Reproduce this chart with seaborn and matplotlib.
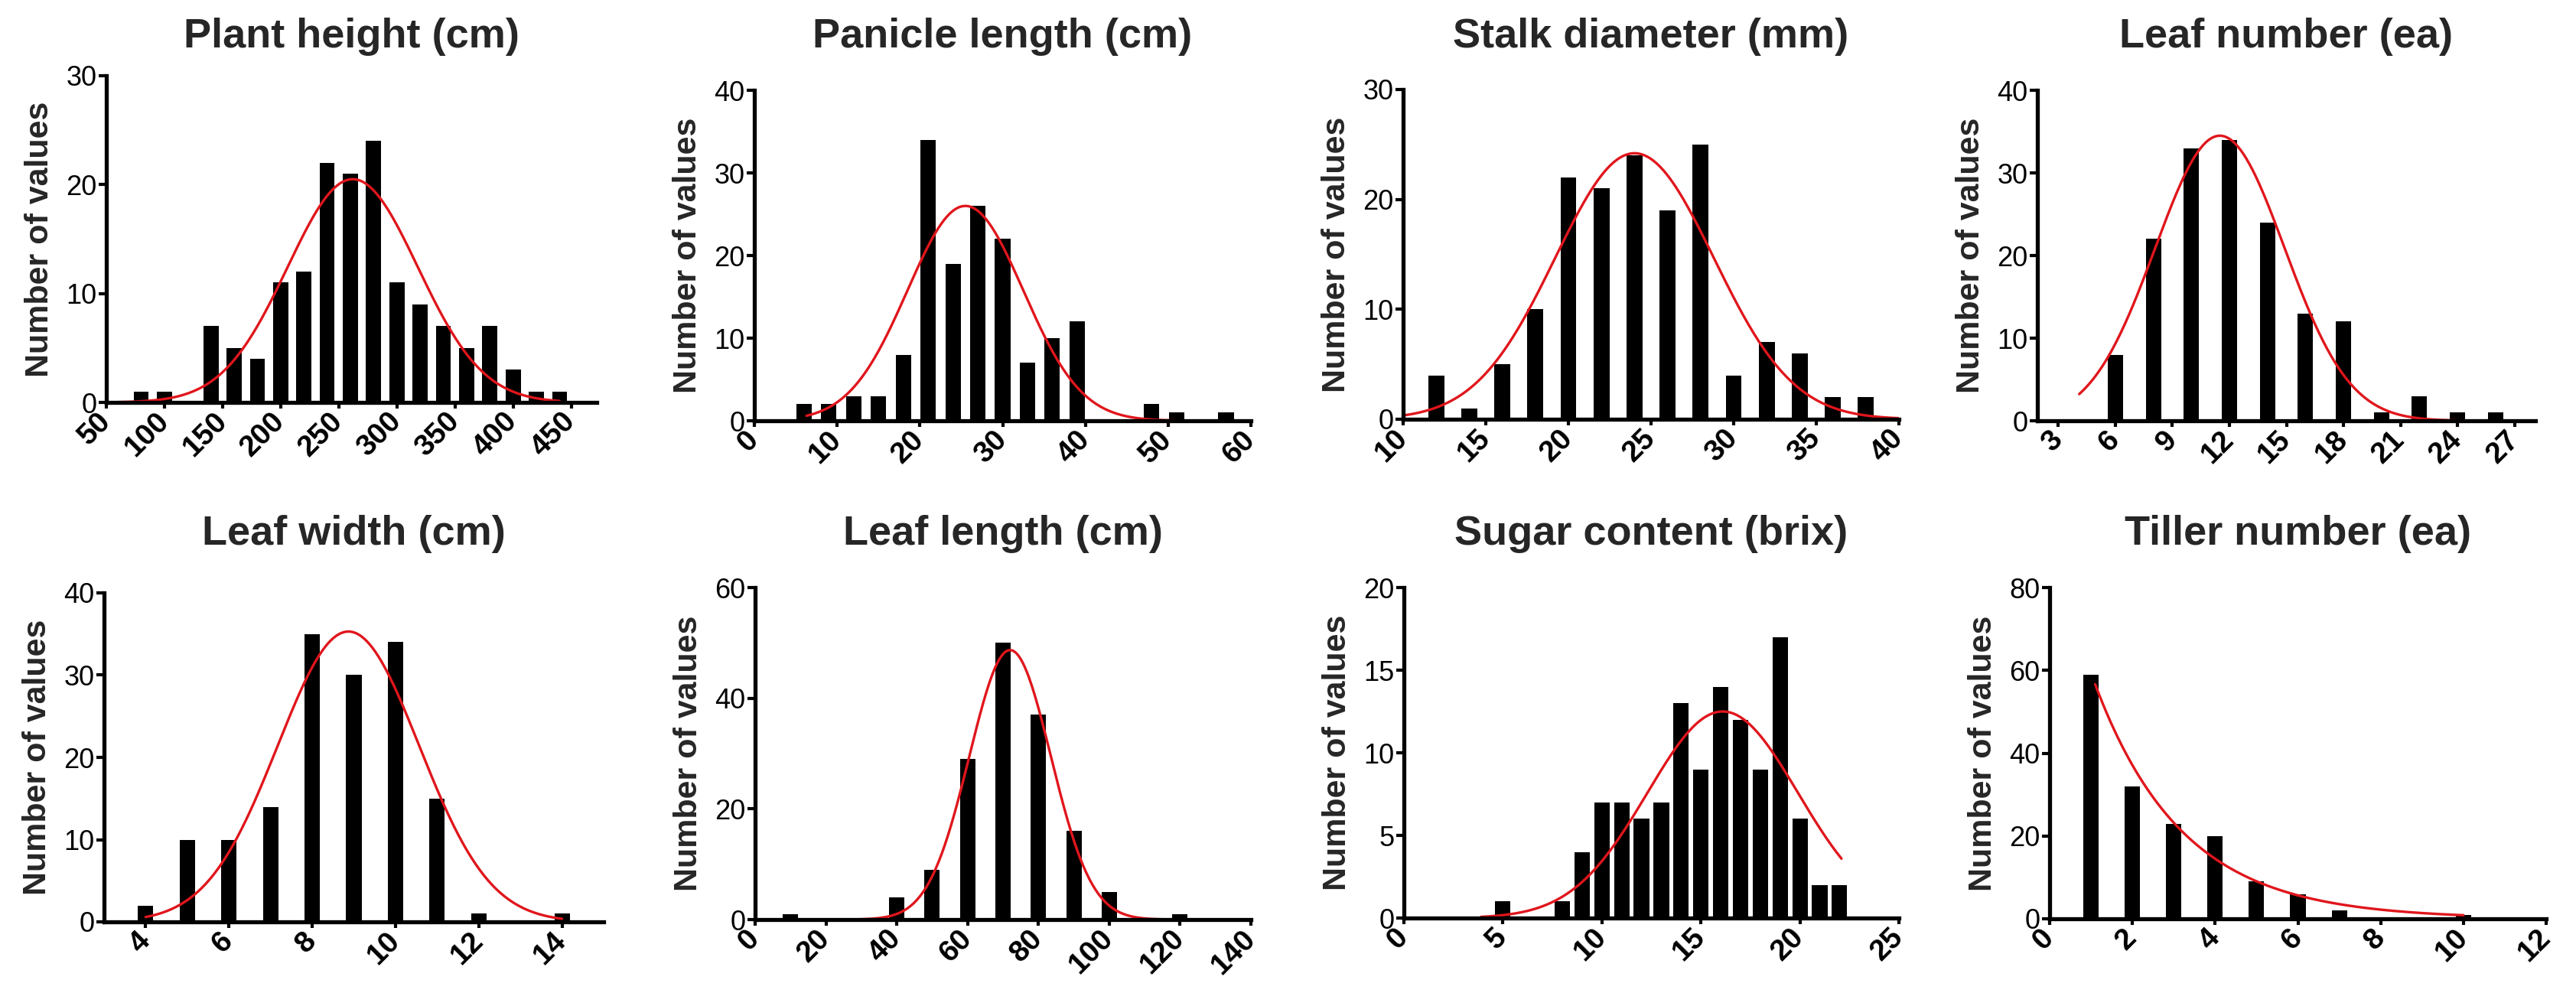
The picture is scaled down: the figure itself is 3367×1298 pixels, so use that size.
import numpy as np
import pandas as pd
import matplotlib
matplotlib.use('Agg')
import matplotlib.pyplot as plt
import seaborn as sns

# Panel titles (row by row)
titles = ['Plant height (cm)', 'Panicle length (cm)', 'Stalk diameter (mm)', 'Leaf number (ea)',
          'Leaf width (cm)', 'Leaf length (cm)', 'Sugar content (brix)', 'Tiller number (ea)']

# Histogram counts
plant_height_counts = [1, 1, 0, 7, 5, 4, 11, 12, 22, 21, 24, 11, 9, 7, 5, 7, 3, 1, 1]
panicle_length_counts = [2, 2, 3, 3, 8, 34, 19, 26, 22, 7, 10, 12, 0, 0, 2, 1, 0, 1]
stalk_diameter_counts = [4, 1, 5, 10, 22, 21, 24, 19, 25, 4, 7, 6, 2, 2]
leaf_number_counts = [8, 22, 33, 34, 24, 13, 12, 1, 3, 1, 1]
leaf_width_counts = [2, 10, 10, 14, 35, 30, 34, 15, 1, 0, 1]
leaf_length_counts = [1, 0, 0, 4, 9, 29, 50, 37, 16, 5, 0, 1]
sugar_content_counts = [1, 0, 0, 1, 4, 7, 7, 6, 7, 13, 9, 14, 12, 9, 17, 6, 2, 2]
tiller_number_counts = [59, 32, 23, 20, 9, 6, 2, 0, 0, 1]

all_counts = [plant_height_counts, panicle_length_counts, stalk_diameter_counts, leaf_number_counts,
              leaf_width_counts, leaf_length_counts, sugar_content_counts, tiller_number_counts]

# Bin centre of the first bar and bin step for each panel
first_centers = [80, 6, 12, 6, 4, 10, 5, 1]
bin_steps = [20, 3, 2, 2, 1, 10, 1, 1]

# Gaussian fits (mean, sd, peak height); last panel is an exponential decay
fit_means = [262, 25.5, 24, 11.5, 8.87, 72, 16.1]
fit_sds = [56, 7.0, 4.8, 3.4, 1.7, 11.5, 3.8]
fit_peaks = [20.5, 26, 24.2, 34.5, 35.3, 48.7, 12.5]
tiller_fit_amp = 95
tiller_fit_rate = 0.47
curve_start = [60, 6.3, 10, 4.1, 4, 0, 3.9, 1.1]
curve_end = [440, 57.5, 40, 26, 14, 130, 22.1, 10]

# Axis ranges and ticks
x_limits = [(50, 472), (0, 60), (10, 40), (1.9, 28.1), (3, 15), (0, 140), (0, 25), (0, 12)]
x_ticks = [[50, 100, 150, 200, 250, 300, 350, 400, 450],
           [0, 10, 20, 30, 40, 50, 60],
           [10, 15, 20, 25, 30, 35, 40],
           [3, 6, 9, 12, 15, 18, 21, 24, 27],
           [4, 6, 8, 10, 12, 14],
           [0, 20, 40, 60, 80, 100, 120, 140],
           [0, 5, 10, 15, 20, 25],
           [0, 2, 4, 6, 8, 10, 12]]
y_limits = [30, 40, 30, 40, 40, 60, 20, 80]
y_ticks = [[0, 10, 20, 30], [0, 10, 20, 30, 40], [0, 10, 20, 30], [0, 10, 20, 30, 40],
           [0, 10, 20, 30, 40], [0, 20, 40, 60], [0, 5, 10, 15, 20], [0, 20, 40, 60, 80]]

# Layout (pixel boxes: left, right, top, bottom) and bar width as fraction of bin
W, H = 3367, 1298
boxes = [(139, 780, 99, 526), (986, 1635, 118, 550), (1834, 2482, 117, 548), (2663, 3314, 118, 550),
         (136, 789, 775, 1205), (987, 1635, 768, 1202), (1835, 2482, 768, 1200), (2679, 3328, 768, 1201)]
title_y = [62, 62, 62, 62, 712, 712, 712, 712]
bar_shrink = [0.65, 0.62, 0.48, 0.4, 0.37, 0.43, 0.78, 0.37]

sns.set_style('ticks')
plt.rcParams['font.family'] = ['Liberation Sans', 'DejaVu Sans']

fig = plt.figure(figsize=(W / 100, H / 100), dpi=100)
red = '#E0161C'

for i in range(8):
    left, right, top, bottom = boxes[i]
    ax = fig.add_axes([left / W, (H - bottom) / H, (right - left) / W, (bottom - top) / H])

    counts = all_counts[i]
    step = bin_steps[i]
    centers = first_centers[i] + step * np.arange(len(counts))
    df = pd.DataFrame({'value': centers, 'count': counts})

    sns.histplot(data=df, x='value', weights='count', binwidth=step,
                 binrange=(centers[0] - step / 2, centers[-1] + step / 2), shrink=bar_shrink[i],
                 color='black', alpha=1, linewidth=0, ax=ax)

    # fitted curve
    xs = np.linspace(curve_start[i], curve_end[i], 300)
    if i < 7:
        ys = fit_peaks[i] * np.exp(-(xs - fit_means[i]) ** 2 / (2 * fit_sds[i] ** 2))
    else:
        ys = tiller_fit_amp * np.exp(-tiller_fit_rate * xs)
    sns.lineplot(x=xs, y=ys, color=red, linewidth=2.4, ax=ax)

    ax.set_xlim(*x_limits[i])
    ax.set_ylim(0, y_limits[i])
    ax.set_yticks(y_ticks[i])
    ax.set_xticks(x_ticks[i])
    ax.set_xticklabels([str(t) for t in x_ticks[i]], rotation=45, ha='right', va='center',
                       rotation_mode='anchor', fontweight='bold', fontsize=28)

    for s in ['top', 'right']:
        ax.spines[s].set_visible(False)
    for s in ['left', 'bottom']:
        ax.spines[s].set_linewidth(3.8)
        ax.spines[s].set_color('black')
    ax.tick_params(axis='y', length=7, width=3, labelsize=26, pad=2, colors='black')
    ax.tick_params(axis='x', length=6, width=3, pad=8, colors='black')

    ax.set_xlabel('')
    ax.set_ylabel('Number of values', fontsize=31, fontweight='bold', labelpad=10)

    fig.text((left + right) / 2 / W, 1 - title_y[i] / H, titles[i], ha='center', va='baseline',
             fontsize=39, fontweight='bold')

fig.savefig('out.png', dpi=100)
